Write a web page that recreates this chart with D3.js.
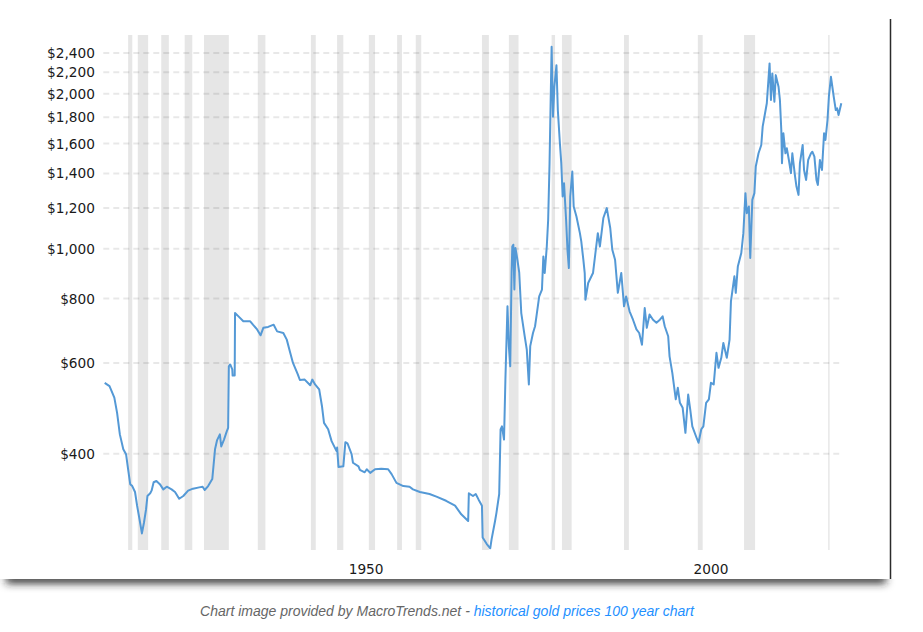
<!DOCTYPE html>
<html lang="en">
<head>
<meta charset="UTF-8">
<title>Gold prices 100 year chart</title>
<script src="https://cdn.jsdelivr.net/npm/d3@7"></script>
<style>
  body { margin: 0; background: #fff; }
  svg { display: block; }
</style>
</head>
<body>
<svg width="923" height="632" id="mainsvg"></svg>
<script>
// inflation adjusted gold price (USD / oz)
const years = [
  1915.2, 1915.9, 1916.6, 1917.0, 1917.4, 1917.9, 1918.3, 1918.6, 1918.9, 1919.2,
  1919.6, 1919.9, 1920.2, 1920.6, 1920.9, 1921.2, 1921.4, 1921.8, 1922.0, 1922.3,
  1922.7, 1923.2, 1923.7, 1924.2, 1924.9, 1925.4, 1926.0, 1926.6, 1927.3, 1928.0,
  1928.9, 1929.4, 1929.7, 1930.2, 1930.8, 1931.2, 1931.5, 1931.9, 1932.1, 1932.5,
  1932.9, 1933.1, 1933.2, 1933.4, 1933.7, 1933.75, 1934.05, 1934.1, 1934.6, 1935.3,
  1936.3, 1936.7, 1937.3, 1937.8, 1938.2, 1938.9, 1939.7, 1940.2, 1941.1, 1941.6,
  1942.1, 1942.5, 1943.2, 1943.5, 1944.2, 1945.0, 1945.3, 1945.7, 1946.3, 1946.7,
  1947.0, 1947.6, 1948.1, 1948.8, 1948.9, 1949.1, 1949.8, 1950.1, 1950.4, 1951.0,
  1951.2, 1952.0, 1952.2, 1952.9, 1953.2, 1953.7, 1954.4, 1955.3, 1956.3, 1956.8,
  1957.5, 1958.5, 1959.4, 1959.9, 1960.9, 1962.3, 1963.3, 1964.7, 1966.0, 1966.9,
  1967.9, 1968.0, 1968.6, 1969.0, 1969.4, 1969.9, 1970.0, 1970.6, 1971.1, 1971.3,
  1971.8, 1972.0, 1972.4, 1972.6, 1972.8, 1973.1, 1973.3, 1973.6, 1973.8, 1974.0,
  1974.2, 1974.3, 1974.45, 1974.6, 1974.75, 1975.0, 1975.3, 1975.6, 1976.1, 1976.4,
  1976.7, 1976.9, 1977.3, 1977.6, 1977.8, 1978.2, 1978.6, 1978.8, 1979.0, 1979.3,
  1979.5, 1979.7, 1980.0, 1980.2, 1980.4, 1980.7, 1980.9, 1981.2, 1981.4, 1981.6,
  1981.8, 1982.1, 1982.3, 1982.5, 1982.7, 1983.0, 1983.2, 1983.6, 1984.1, 1984.3,
  1984.6, 1984.8, 1984.9, 1985.3, 1986.0, 1986.7, 1987.0, 1987.5, 1988.0, 1988.5,
  1988.8, 1989.2, 1989.6, 1990.1, 1990.5, 1990.8, 1991.3, 1991.8, 1992.3, 1992.7,
  1993.1, 1993.5, 1993.8, 1994.2, 1994.7, 1995.2, 1995.7, 1996.1, 1996.4, 1996.9,
  1997.1, 1997.5, 1998.0, 1998.3, 1998.6, 1999.0, 1999.4, 1999.8, 2000.1, 2000.4,
  2001.0, 2001.3, 2001.7, 2002.0, 2002.4, 2002.8, 2003.1, 2003.5, 2003.9, 2004.2,
  2004.6, 2004.9, 2005.4, 2005.8, 2006.0, 2006.3, 2006.5, 2006.7, 2007.0, 2007.5,
  2007.8, 2008.1, 2008.3, 2008.6, 2008.8, 2009.1, 2009.4, 2009.6, 2010.0, 2010.4,
  2010.6, 2010.9, 2011.2, 2011.6, 2011.8, 2012.0, 2012.3, 2012.5, 2012.9, 2013.1,
  2013.3, 2013.4, 2013.6, 2013.9, 2014.1, 2014.4, 2014.7, 2014.9, 2015.3, 2015.5,
  2015.8, 2016.0, 2016.4, 2016.6, 2016.9, 2017.2, 2017.6, 2017.8, 2018.1, 2018.4,
  2018.6, 2018.9, 2019.2, 2019.5, 2019.7, 2020.0, 2020.2, 2020.5, 2020.7, 2020.9,
  2021.2, 2021.4, 2021.6, 2022.0
];
const prices = [
  549, 541, 514, 480, 436, 408, 399, 373, 349, 346,
  337, 317, 301, 280, 294, 312, 331, 335, 339, 352,
  354, 349, 341, 345, 341, 337, 327, 331, 339, 342,
  344, 345, 340, 346, 357, 408, 425, 436, 413, 426,
  442, 449, 591, 596, 583, 567, 567, 750, 739, 723,
  723, 712, 697, 679, 702, 705, 712, 691, 686, 666,
  628, 600, 570, 556, 557, 543, 557, 545, 533, 495,
  459, 446, 423, 405, 411, 377, 378, 421, 419, 399,
  384, 378, 372, 368, 373, 367, 373, 374, 373, 365,
  351, 346, 345, 341, 337, 334, 330, 324, 317, 305,
  296, 335, 331, 334, 326, 317, 275, 267, 262, 273,
  296, 307, 334, 446, 452, 426, 557, 773, 647, 591,
  900, 1010, 1018, 833, 1003, 960, 900, 750, 676, 637,
  545, 647, 686, 707, 739, 808, 833, 966, 897, 1010,
  1138, 1466, 2466, 1804, 2063, 2272, 1859, 1602, 1466, 1263,
  1340, 1138, 995, 917, 1263, 1412, 1208, 1155, 1072, 1033,
  952, 897, 796, 858, 897, 1072, 1010, 1147, 1199, 1097,
  995, 952, 821, 897, 773, 808, 756, 728, 697, 686,
  651, 767, 702, 745, 728, 718, 728, 739, 707, 676,
  618, 574, 510, 537, 502, 491, 439, 521, 487, 452,
  430, 420, 446, 452, 502, 510, 549, 545, 628, 587,
  614, 656, 614, 666, 790, 845, 884, 821, 924, 981,
  1072, 1282, 1172, 1208, 959, 1244, 1282, 1444, 1532, 1590,
  1726, 1818, 1916, 2290, 1944, 2190, 1929, 2173, 2063, 1944,
  1700, 1466, 1676, 1532, 1567, 1487, 1402, 1532, 1380, 1320,
  1272, 1466, 1590, 1422, 1360, 1487, 1532, 1543, 1509, 1360,
  1330, 1487, 1422, 1676, 1626, 1778, 1973, 2157, 2063, 1973,
  1859, 1873, 1818, 1916
];

// US recessions (NBER), decimal years
const recessionStart = [1918.6, 1920.0, 1923.4, 1926.8, 1929.6, 1937.4, 1945.1, 1948.9, 1953.5, 1957.6,
                        1960.3, 1969.9, 1973.8, 1980.0, 1981.5, 1990.5, 2001.2, 2007.9, 2020.1];
const recessionEnd   = [1919.2, 1921.5, 1924.5, 1927.9, 1933.2, 1938.5, 1945.8, 1949.8, 1954.4, 1958.3,
                        1961.1, 1970.9, 1975.2, 1980.5, 1982.9, 1991.2, 2001.9, 2009.5, 2020.3];

const yTicks = [400, 600, 800, 1000, 1200, 1400, 1600, 1800, 2000, 2200, 2400];
const xTicks = [1950, 2000];

const svg = d3.select("#mainsvg");

const x = d3.scaleLinear().domain([1915, 2022]).range([103.3, 841.3]);
const y = d3.scaleLog().domain([260, 2600]).range([550, 35]);

// frame with drop shadow
const defs = svg.append("defs");
defs.append("filter").attr("id", "shadow")
  .attr("x", "-5%").attr("y", "-200%").attr("width", "110%").attr("height", "500%")
  .append("feGaussianBlur").attr("stdDeviation", "4 4");

svg.append("rect")
  .attr("x", 6).attr("y", 574).attr("width", 880).attr("height", 9)
  .attr("fill", "#222")
  .attr("filter", "url(#shadow)");
svg.append("rect")
  .attr("x", 0).attr("y", 0).attr("width", 923).attr("height", 579)
  .attr("fill", "#fff");
svg.append("line")
  .attr("x1", 890.5).attr("x2", 890.5).attr("y1", 19).attr("y2", 579)
  .attr("stroke", "#2b2b2b").attr("stroke-width", 1.5);

const g = svg.append("g");

// recession bands
g.selectAll("rect.rec").data(recessionStart).join("rect")
  .attr("class", "rec")
  .attr("x", d => x(d))
  .attr("width", (d, i) => Math.max(1, x(recessionEnd[i]) - x(d)))
  .attr("y", y.range()[1])
  .attr("height", y.range()[0] - y.range()[1])
  .attr("fill", "#e6e6e6");

// dashed gridlines
g.selectAll("line.grid").data(yTicks).join("line")
  .attr("class", "grid")
  .attr("x1", x(1915))
  .attr("x2", x(2021.7))
  .attr("y1", d => y(d))
  .attr("y2", d => y(d))
  .attr("stroke", "rgba(0,0,0,0.09)")
  .attr("stroke-width", 2)
  .attr("stroke-dasharray", "6,4");

// y labels
g.selectAll("text.ylab").data(yTicks).join("text")
  .attr("class", "ylab")
  .attr("x", 95)
  .attr("y", d => y(d))
  .attr("dy", "0.36em")
  .attr("text-anchor", "end")
  .attr("font-family", "DejaVu Sans, Verdana, sans-serif")
  .attr("font-size", "13.7px")
  .attr("fill", "#1a1a1a")
  .text(d => "$" + d3.format(",")(d));

// x labels
g.selectAll("text.xlab").data(xTicks).join("text")
  .attr("class", "xlab")
  .attr("x", d => x(d) + 4)
  .attr("y", 574)
  .attr("text-anchor", "start")
  .attr("font-family", "DejaVu Sans, Verdana, sans-serif")
  .attr("font-size", "13.7px")
  .attr("fill", "#1a1a1a")
  .text(d => d);

// price line
const line = d3.line()
  .x((d, i) => x(years[i]))
  .y(d => y(d));

g.append("path")
  .datum(prices)
  .attr("fill", "none")
  .attr("stroke", "#5499d6")
  .attr("stroke-width", 2)
  .attr("stroke-linejoin", "round")
  .attr("d", line);

// credit line
const credit = svg.append("text")
  .attr("x", 447)
  .attr("y", 616)
  .attr("text-anchor", "middle")
  .attr("font-family", "Liberation Sans, Arial, sans-serif")
  .attr("font-style", "italic")
  .attr("font-size", "14px");
credit.append("tspan").attr("fill", "#666").text("Chart image provided by MacroTrends.net - ");
credit.append("tspan").attr("fill", "#1e90ff").text("historical gold prices 100 year chart");
</script>
</body>
</html>
